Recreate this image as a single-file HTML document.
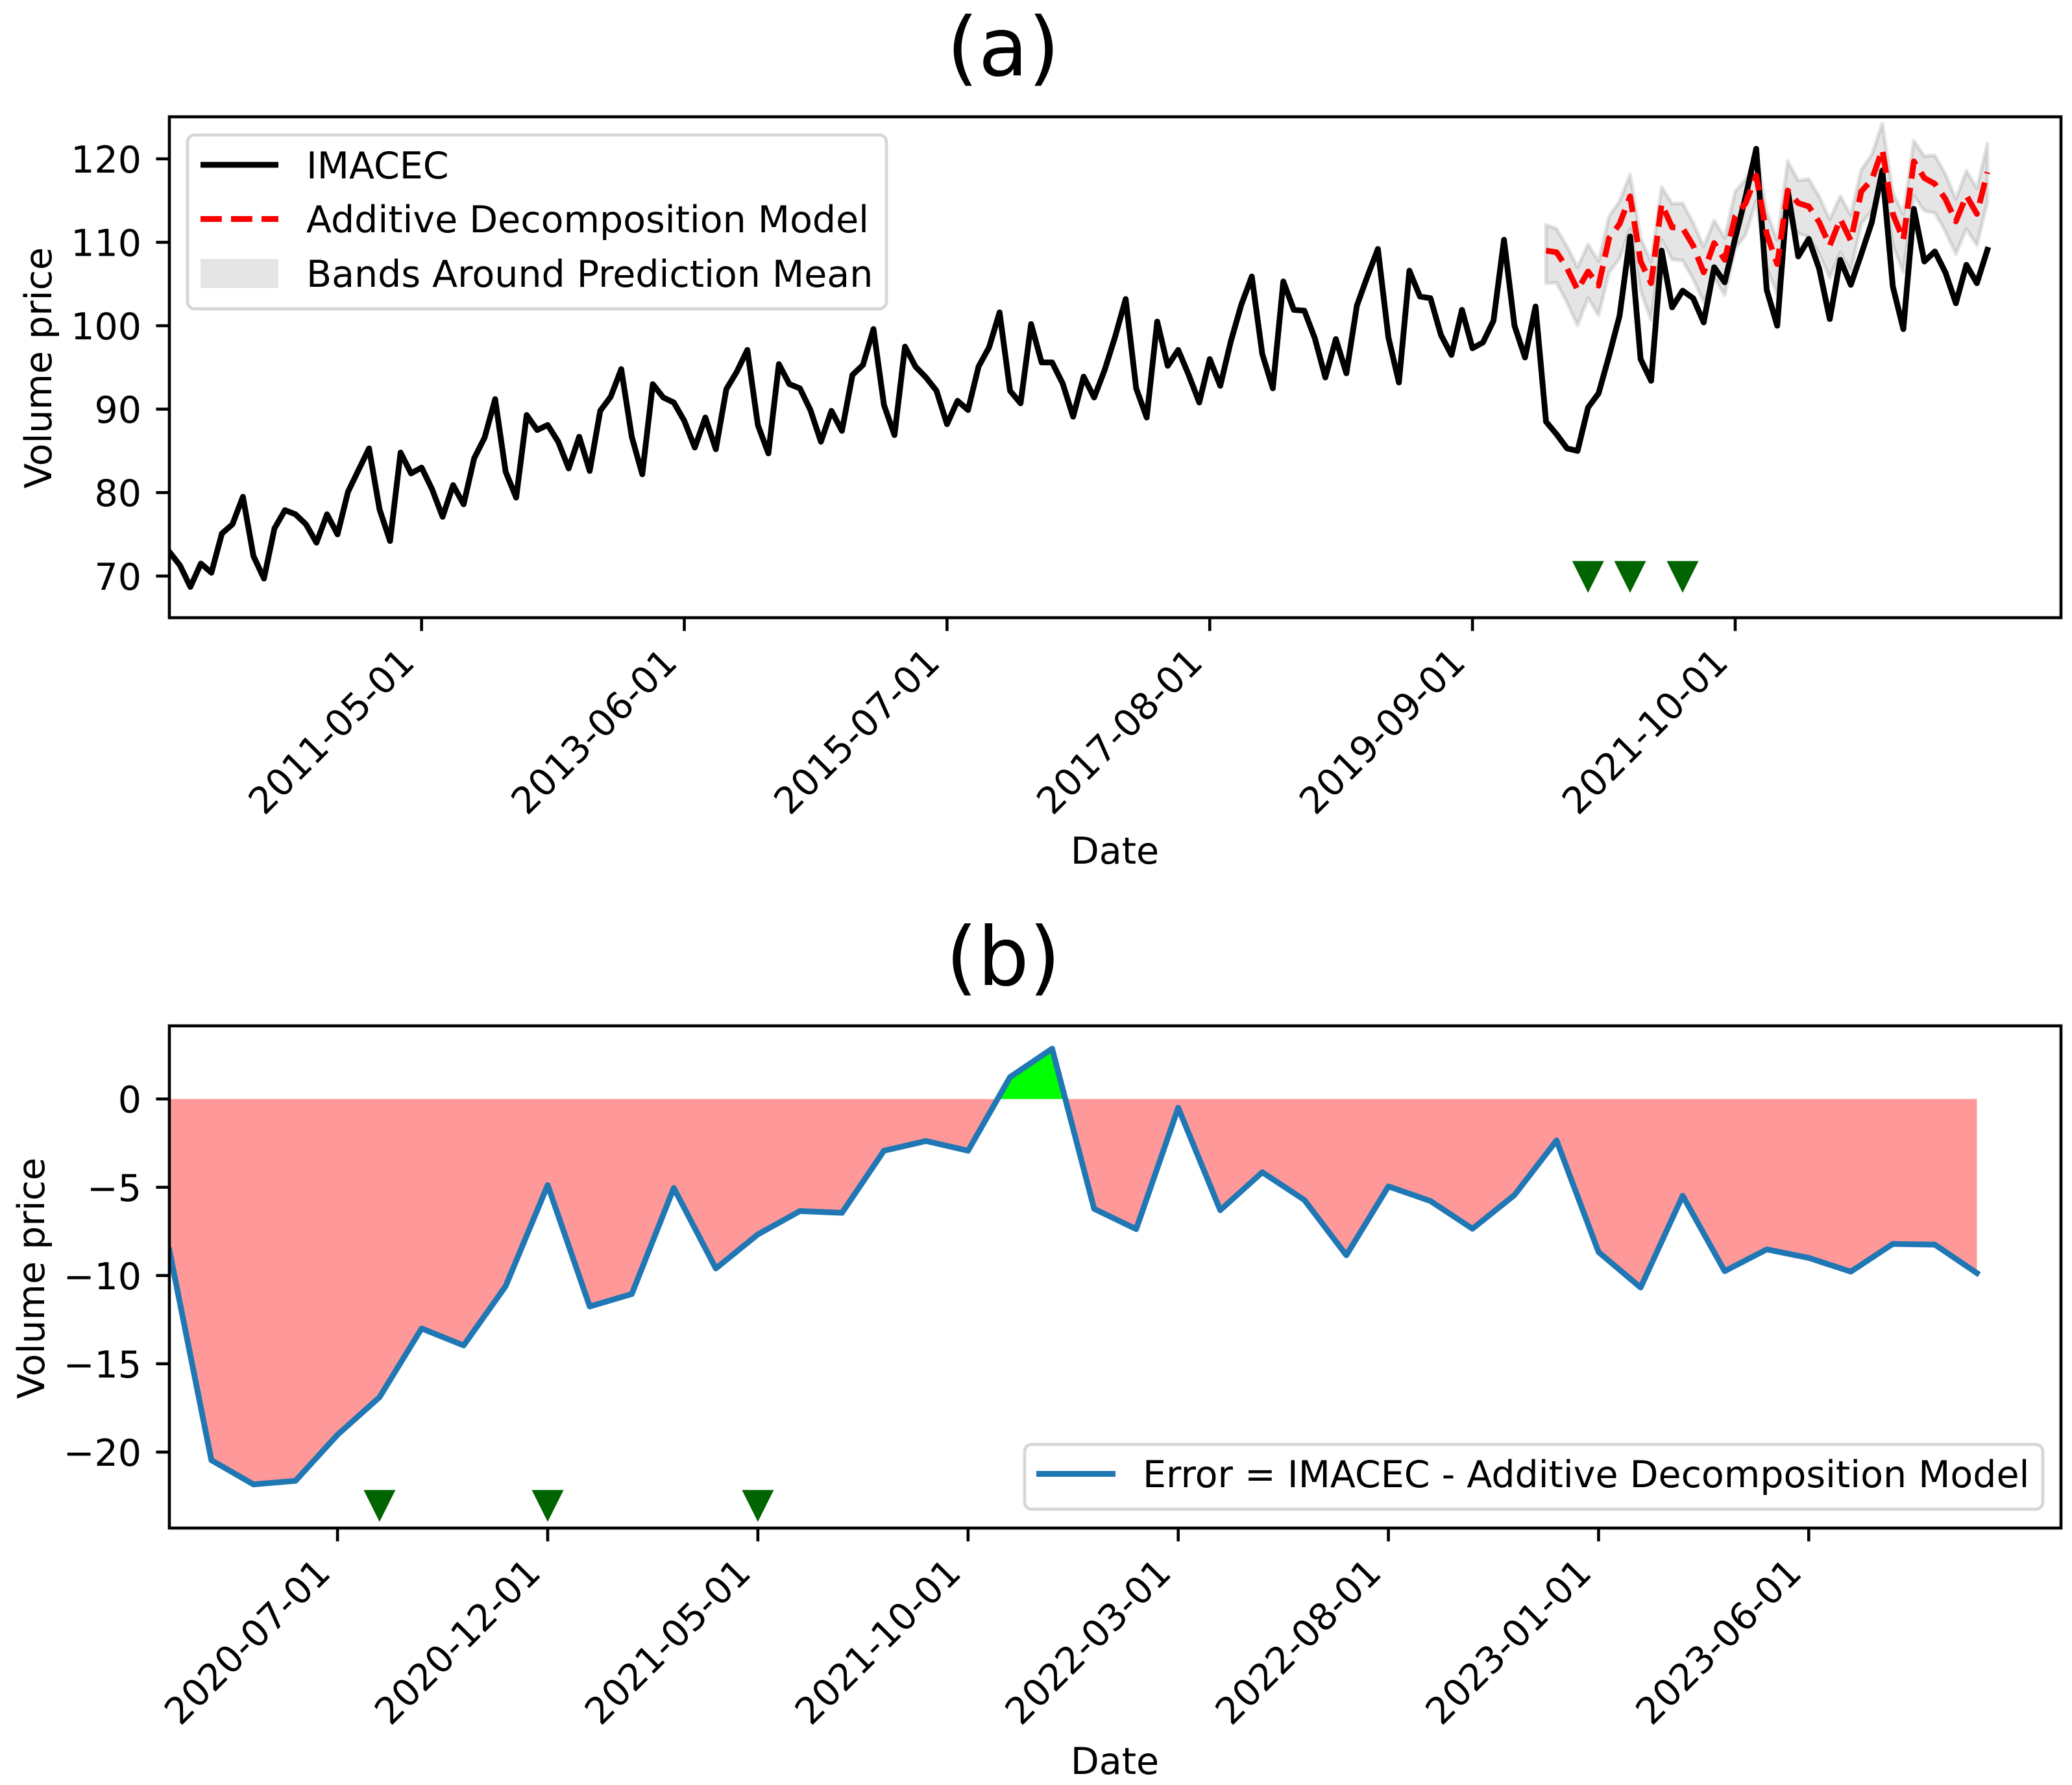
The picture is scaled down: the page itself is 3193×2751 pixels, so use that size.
<!DOCTYPE html>
<html lang="en">
<head>
<meta charset="utf-8">
<title>IMACEC vs Additive Decomposition Model</title>
<style>
html,body{margin:0;padding:0;background:#fff;}
svg{display:block;}
text{font-family:"DejaVu Sans","Liberation Sans",sans-serif;fill:#000;}
</style>
</head>
<body>
<svg id="figure" xmlns="http://www.w3.org/2000/svg" width="3193" height="2751" viewBox="0 0 3193 2751">
  <rect x="0" y="0" width="3193" height="2751" fill="#fff"/>
  <defs>
    <clipPath id="clip-a"><rect x="261" y="180" width="2915" height="772"/></clipPath>
    <clipPath id="clip-b"><rect x="261" y="1581" width="2915" height="774"/></clipPath>
  </defs>

  <text x="1546" y="116" font-size="125" text-anchor="middle">(a)</text>
  <g id="marks-a" clip-path="url(#clip-a)"></g>
  <g id="axis-a"></g>
  <text transform="translate(79,567) rotate(-90)" font-size="57" text-anchor="middle">Volume price</text>
  <text x="1718" y="1331" font-size="57" text-anchor="middle">Date</text>

  <g>
    <rect x="289" y="208" width="1077" height="268" rx="11" fill="#fff" fill-opacity="0.8" stroke="#d6d6d6" stroke-width="4.7"/>
    <line x1="309" y1="254" x2="429" y2="254" stroke="#000" stroke-width="8.9"/>
    <text x="472" y="275" font-size="57">IMACEC</text>
    <line x1="309" y1="337.5" x2="429" y2="337.5" stroke="#f00" stroke-width="8.9" stroke-dasharray="32.8 14.2"/>
    <text x="472" y="358" font-size="57">Additive Decomposition Model</text>
    <rect x="309" y="399" width="120" height="45" fill="#e5e5e5"/>
    <text x="472" y="442" font-size="57">Bands Around Prediction Mean</text>
  </g>

  <text x="1546" y="1518" font-size="125" text-anchor="middle">(b)</text>
  <g id="marks-b" clip-path="url(#clip-b)"></g>
  <g id="axis-b"></g>
  <text transform="translate(68,1970) rotate(-90)" font-size="57" text-anchor="middle">Volume price</text>
  <text x="1718" y="2734" font-size="57" text-anchor="middle">Date</text>

  <g>
    <rect x="1579" y="2226" width="1569" height="100" rx="11" fill="#fff" fill-opacity="0.8" stroke="#d6d6d6" stroke-width="4.7"/>
    <line x1="1597" y1="2271.5" x2="1719" y2="2271.5" stroke="#1f77b4" stroke-width="8.9"/>
    <text x="1761" y="2292" font-size="57">Error = IMACEC - Additive Decomposition Model</text>
  </g>
</svg>
<script>
// Panel (a) data: monthly index, first point is month 0
const imacecValues = [72.9,71.3,68.7,71.5,70.4,75.1,76.2,79.5,72.4,69.7,75.7,77.9,77.4,76.2,74.0,77.4,75.0,80.1,82.7,85.3,78.0,74.2,84.8,82.3,83.0,80.4,77.1,80.9,78.6,84.1,86.6,91.2,82.5,79.4,89.3,87.5,88.1,86.1,82.9,86.7,82.6,89.8,91.5,94.8,86.7,82.2,93.0,91.4,90.8,88.6,85.4,89.0,85.2,92.4,94.5,97.1,88.1,84.7,95.4,93.0,92.5,89.9,86.1,89.8,87.4,94.1,95.3,99.6,90.5,86.9,97.5,95.1,93.8,92.2,88.2,91.0,89.9,95.1,97.4,101.6,92.2,90.7,100.2,95.6,95.6,93.1,89.1,93.9,91.4,94.7,98.7,103.2,92.5,89.0,100.5,95.2,97.1,94.1,90.8,96.0,92.8,98.1,102.5,105.9,96.6,92.5,105.3,101.9,101.8,98.5,93.8,98.4,94.3,102.4,105.9,109.2,98.6,93.2,106.6,103.5,103.3,98.9,96.5,101.9,97.3,98.0,100.6,110.3,100.0,96.2,102.3,88.5,87.0,85.3,85.0,90.2,91.9,96.4,101.2,110.7,96.0,93.4,109.0,102.2,104.2,103.3,100.4,107.0,105.2,110.5,115.5,121.2,104.3,100.0,116.2,108.3,110.4,106.8,100.8,107.9,104.9,108.6,112.4,118.6,104.7,99.6,114.0,107.7,108.9,106.4,102.7,107.3,105.1,109.1];
const forecastStartIndex = 131;
const modelValues = [109.0,108.8,106.9,104.3,106.5,104.8,110.5,112.2,115.5,107.7,105.1,114.6,111.8,111.7,109.6,106.4,109.9,107.9,113.1,114.7,118.0,111.0,107.4,116.2,114.7,114.3,112.4,109.6,112.8,110.2,116.1,117.5,121.1,113.4,110.3,119.7,117.7,117.0,115.2,112.5,115.6,113.4,118.4];
const bandUpperValues = [112.08,111.62,109.49,107.03,109.75,107.73,113.12,114.93,118.12,110.53,107.68,116.62,114.62,114.67,112.34,109.49,112.6,110.53,116.1,117.53,120.64,113.64,110.27,119.73,117.4,117.58,115.45,112.73,115.53,113.25,118.69,120.51,124.26,115.97,113.38,122.19,120.32,120.43,118.17,115.19,118.56,116.49,121.8];
const bandLowerValues = [105.08,105.16,102.75,100.03,103.32,101.25,106.38,108.07,111.62,104.18,100.68,110.27,107.94,107.81,105.6,102.88,105.73,103.66,109.23,110.92,114.93,106.9,103.79,112.99,111.04,110.66,108.58,105.73,108.76,106.51,112.21,113.77,117.27,109.62,106.38,115.58,113.77,113.51,111.3,108.58,111.62,109.62,114.8];
const markerIndicesA = [135,139,144];
const markerLevelA = 69.9;
const tickIndicesA = [24,49,74,99,124,149];
const tickLabelsA = ["2011-05-01","2013-06-01","2015-07-01","2017-08-01","2019-09-01","2021-10-01"];
const yTicksA = [70,80,90,100,110,120];

// Panel (b) data: monthly index, first point is 2020-03
const errorValues = [-8.57,-20.46,-21.83,-21.63,-19.02,-16.89,-13.0,-13.96,-10.6,-4.88,-11.75,-11.05,-5.04,-9.6,-7.67,-6.35,-6.45,-2.93,-2.38,-2.93,1.24,2.85,-6.22,-7.37,-0.5,-6.3,-4.15,-5.72,-8.85,-4.95,-5.78,-7.35,-5.44,-2.35,-8.67,-10.68,-5.48,-9.75,-8.52,-9.0,-9.78,-8.21,-8.25,-9.86];
const markerIndicesB = [5,9,14];
const markerLevelB = -23.05;
const tickIndicesB = [4,9,14,19,24,29,34,39];
const tickLabelsB = ["2020-07-01","2020-12-01","2021-05-01","2021-10-01","2022-03-01","2022-08-01","2023-01-01","2023-06-01"];
const yTicksB = [0,-5,-10,-15,-20];

const NS = "http://www.w3.org/2000/svg";
const LEFT = 261, RIGHT = 3176;
const TOP_A = 180, BOTTOM_A = 952, TOP_B = 1581, BOTTOM_B = 2355;

function xA(i){ return LEFT + (RIGHT - LEFT) * i / 180; }
function yA(v){ return 887.8 - (v - 70) * 12.86; }
function xB(i){ return LEFT + (RIGHT - LEFT) * i / 45; }
function yB(v){ return 1693.7 - v * 27.21; }

function make(tag, attrs, parent){
  const el = document.createElementNS(NS, tag);
  for (const k in attrs) el.setAttribute(k, attrs[k]);
  parent.appendChild(el);
  return el;
}
function poly(pts){
  return pts.map(function(p, i){ return (i ? "L" : "M") + p[0].toFixed(2) + " " + p[1].toFixed(2); }).join(" ");
}
function triangle(cx, cy){
  const h = 24.5;
  return "M" + (cx - h) + " " + (cy - h) + " L" + (cx + h) + " " + (cy - h) + " L" + cx + " " + (cy + h) + " Z";
}

const marksA = document.getElementById("marks-a");
const axisA = document.getElementById("axis-a");
const marksB = document.getElementById("marks-b");
const axisB = document.getElementById("axis-b");

// ---------- Panel (a) marks ----------
const upperPts = bandUpperValues.map(function(v, i){ return [xA(forecastStartIndex + i), yA(v)]; });
const lowerPts = bandLowerValues.map(function(v, i){ return [xA(forecastStartIndex + i), yA(v)]; }).reverse();
const band = make("path", {d: poly(upperPts.concat(lowerPts)) + " Z", fill: "#000", "fill-opacity": 0.1, stroke: "#000", "stroke-opacity": 0.1, "stroke-width": 5.9, "stroke-linejoin": "round"}, marksA);



const imacecLine = make("path", {d: poly(imacecValues.map(function(v, i){ return [xA(i), yA(v)]; })), fill: "none", stroke: "#000", "stroke-width": 8.9, "stroke-linejoin": "round", "stroke-linecap": "square"}, marksA);



const modelLine = make("path", {d: poly(modelValues.map(function(v, i){ return [xA(forecastStartIndex + i), yA(v)]; })), fill: "none", stroke: "#f00", "stroke-width": 8.9, "stroke-linejoin": "round", "stroke-dasharray": "32.8 14.2"}, marksA);



markerIndicesA.forEach(function(idx){
  const m = make("path", {d: triangle(xA(idx), yA(markerLevelA)), fill: "#006400"}, marksA);
  
  
});

// ---------- Panel (b) marks: fills split at zero crossings ----------
function fillSegments(values){
  const neg = [], pos = [];
  let curNeg = null, curPos = null;
  for (let i = 0; i < values.length; i++){
    const v = values[i];
    if (i > 0 && values[i - 1] * v < 0){
      const xc = (i - 1) + values[i - 1] / (values[i - 1] - v);
      if (curNeg){ curNeg.push([xc, 0]); neg.push(curNeg); curNeg = null; curPos = [[xc, 0]]; }
      else if (curPos){ curPos.push([xc, 0]); pos.push(curPos); curPos = null; curNeg = [[xc, 0]]; }
    }
    if (v < 0){
      if (!curNeg) curNeg = [[i, 0]];
      curNeg.push([i, v]);
    } else {
      if (!curPos) curPos = [[i, 0]];
      curPos.push([i, v]);
    }
  }
  if (curNeg){ curNeg.push([values.length - 1, 0]); neg.push(curNeg); }
  if (curPos){ curPos.push([values.length - 1, 0]); pos.push(curPos); }
  return {neg: neg, pos: pos};
}
const segments = fillSegments(errorValues);
segments.neg.forEach(function(seg){
  const f = make("path", {d: poly(seg.map(function(p){ return [xB(p[0]), yB(p[1])]; })) + " Z", fill: "#ff9999"}, marksB);
  
  
});
segments.pos.forEach(function(seg){
  const f = make("path", {d: poly(seg.map(function(p){ return [xB(p[0]), yB(p[1])]; })) + " Z", fill: "#00ff00"}, marksB);
  
  
});
const errorLine = make("path", {d: poly(errorValues.map(function(v, i){ return [xB(i), yB(v)]; })), fill: "none", stroke: "#1f77b4", "stroke-width": 8.9, "stroke-linejoin": "round", "stroke-linecap": "square"}, marksB);



markerIndicesB.forEach(function(idx){
  const m = make("path", {d: triangle(xB(idx), yB(markerLevelB)), fill: "#006400"}, marksB);
  
  
});

// ---------- Axes ----------
function drawAxes(group, top, bottom, xScale, yScale, xIdx, xLabels, yVals, suffix){
  yVals.forEach(function(v){
    const y = yScale(v);
    const t = make("line", {x1: LEFT - 20.5, y1: y, x2: LEFT, y2: y, stroke: "#000", "stroke-width": 4.6}, group);
    
    
    const label = make("text", {x: 218, y: y + 21, "font-size": 57, "text-anchor": "end"}, group);
    label.textContent = String(v).replace("-", "\u2212");
    
    
  });
  xIdx.forEach(function(idx, k){
    const x = xScale(idx);
    const t = make("line", {x1: x, y1: bottom, x2: x, y2: bottom + 20.5, stroke: "#000", "stroke-width": 4.6}, group);
    
    
    const label = make("text", {transform: "translate(" + (x - 8) + "," + (bottom + 72) + ") rotate(-45)", "font-size": 57, "text-anchor": "end"}, group);
    label.textContent = xLabels[k];
    
    
  });
  const frame = make("rect", {x: LEFT, y: top, width: RIGHT - LEFT, height: bottom - top, fill: "none", stroke: "#000", "stroke-width": 4.6}, group);
  
  
}
drawAxes(axisA, TOP_A, BOTTOM_A, xA, yA, tickIndicesA, tickLabelsA, yTicksA, 'a');
drawAxes(axisB, TOP_B, BOTTOM_B, xB, yB, tickIndicesB, tickLabelsB, yTicksB, 'b');
</script>
</body>
</html>
